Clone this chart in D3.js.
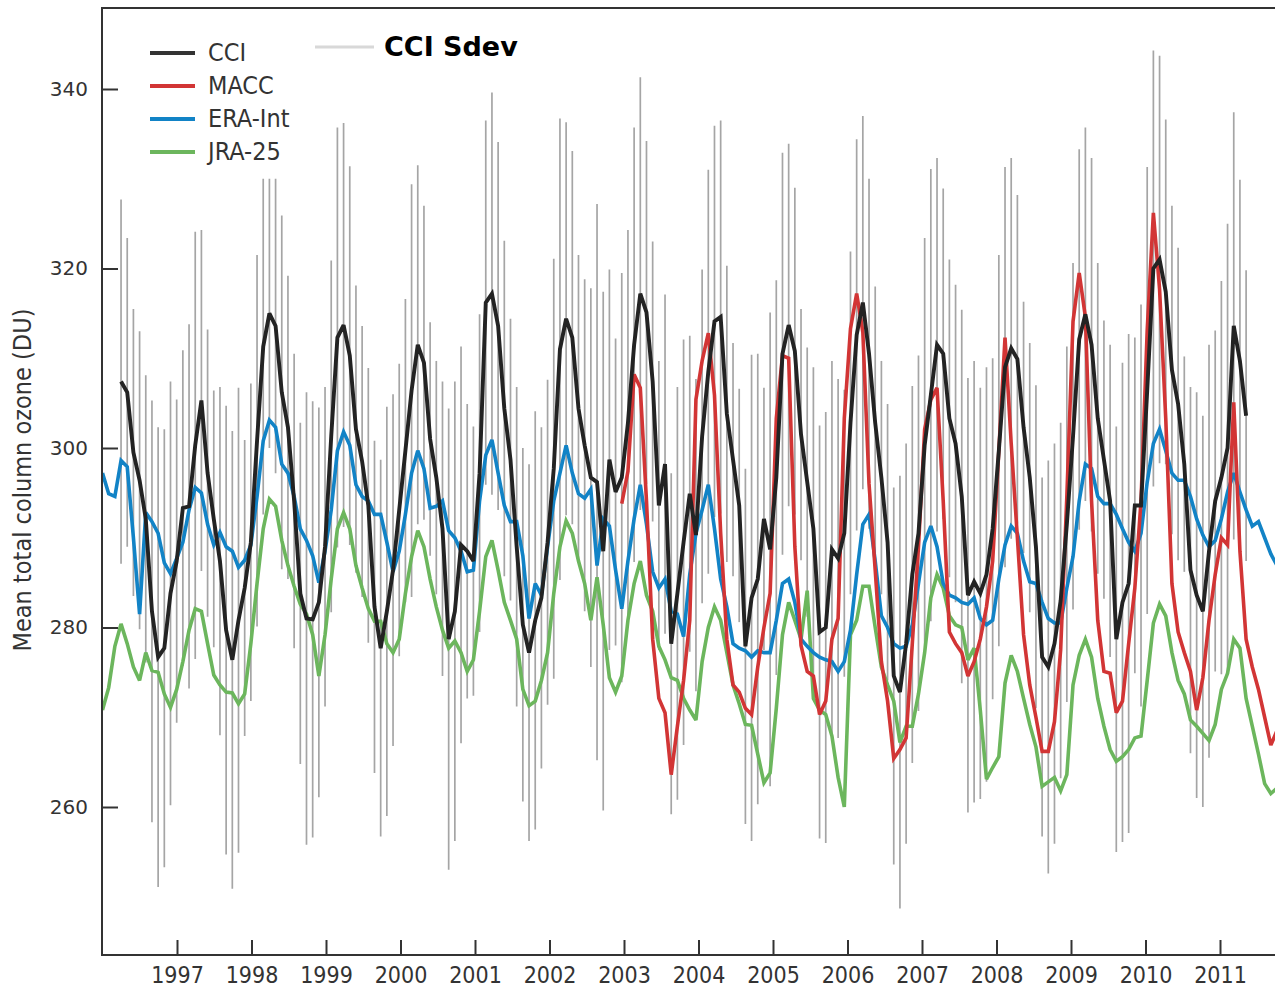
<!DOCTYPE html>
<html><head><meta charset="utf-8">
<script src="https://cdn.jsdelivr.net/npm/d3@7"></script>
<style>body{margin:0;background:#fff} svg{display:block}</style>
</head><body>
<svg id="chart" width="1275" height="989"></svg>
<script>
// ---- data (monthly, month index counted from Jan 1996) ----
const baseYear = 1996;
const yearTicks = [1997,1998,1999,2000,2001,2002,2003,2004,2005,2006,2007,2008,2009,2010,2011];
const yTicks = [260,280,300,320,340];
const seriesNames = ["CCI","MACC","ERA-Int","JRA-25"];
const seriesColors = ["#232323","#d23535","#1283c6","#6cb65d"];

const eraStart = 0;
const era = [297.2,294.9,294.6,298.6,297.9,290.0,281.5,292.8,291.8,290.5,287.2,286.0,
287.7,289.5,293.1,295.6,295.0,291.5,289.2,290.6,289.0,288.5,286.7,287.5,
289.2,294.6,300.8,303.1,302.3,298.2,297.2,294.6,291.0,289.7,288.0,285.0,
288.5,293.1,299.7,301.8,300.3,295.9,294.6,294.1,292.6,292.6,289.5,286.2,
288.5,292.6,297.2,299.7,297.7,293.3,293.5,294.1,290.8,290.0,288.5,286.2,
286.4,294.1,299.2,300.9,297.2,293.6,291.8,291.8,288.0,281.0,284.9,283.6,
289.0,294.1,297.2,300.3,297.2,294.9,294.4,295.4,286.9,292.1,291.3,286.4,
282.1,287.4,292.1,295.9,291.5,286.2,284.4,285.4,281.8,281.5,279.0,285.9,
290.5,293.1,295.9,291.0,285.4,282.3,278.2,277.7,277.4,276.7,277.4,277.2,
277.2,280.8,284.9,285.4,282.8,278.7,277.9,277.2,276.7,276.4,276.2,275.1,
276.2,279.7,285.9,291.5,292.6,287.4,281.3,280.0,278.2,277.7,277.9,280.3,
284.9,289.5,291.3,289.0,284.9,283.6,283.3,282.8,282.6,283.3,281.0,280.3,
280.8,285.4,289.2,291.3,290.5,287.4,285.1,284.9,282.8,281.0,280.5,280.5,
284.4,287.9,294.1,298.2,297.7,294.6,293.8,293.8,292.6,291.0,289.5,288.5,
290.5,296.2,300.5,302.1,299.7,297.2,296.4,296.4,294.6,292.1,290.3,289.0,
289.7,292.1,295.1,297.2,295.1,293.1,291.3,291.8,290.0,288.2,286.9];

const jraStart = 0;
const jra = [270.8,273.3,277.9,280.4,278.2,275.6,274.1,277.2,275.2,275.0,272.6,271.1,
273.1,276.2,279.7,282.1,281.8,278.2,274.7,273.6,272.8,272.7,271.5,272.6,
278.2,284.9,291.0,294.3,293.5,289.7,286.9,284.6,282.6,281.5,279.2,274.6,
279.2,285.4,291.0,292.8,291.0,286.9,284.4,282.1,280.7,280.7,278.2,277.2,
278.7,283.8,287.9,290.8,289.0,285.4,282.3,279.7,277.7,278.5,277.2,275.1,
276.4,281.8,287.9,289.7,286.4,282.8,280.8,278.7,273.1,271.3,271.8,274.1,
277.2,283.8,289.0,291.9,290.5,287.4,284.9,280.8,285.6,280.3,274.4,272.8,
274.6,280.8,284.9,287.4,283.6,281.8,277.9,276.4,274.4,274.1,272.1,270.8,
269.7,276.2,280.0,282.3,280.8,277.2,273.6,271.5,269.2,269.1,265.9,262.7,
263.8,271.0,279.2,282.8,280.8,278.7,284.1,272.1,270.8,270.3,267.9,263.3,
260.0,279.2,280.8,284.6,284.6,280.0,275.6,273.6,271.8,267.2,269.0,269.0,
272.6,277.2,283.3,285.9,284.4,281.3,280.3,280.0,276.4,277.7,270.8,263.1,
264.4,265.6,273.8,276.9,275.1,272.1,269.2,266.7,262.3,262.8,263.3,261.8,
263.6,273.6,276.9,278.7,276.7,272.1,269.0,266.4,265.1,265.6,266.4,267.7,
267.9,274.1,280.5,282.6,281.3,277.2,274.1,272.6,269.7,269.0,268.2,267.4,
269.2,273.1,274.9,278.7,277.7,272.1,269.0,265.9,262.6,261.5,262.1];

const cciStart = 3;
const cci = [307.4,306.2,299.5,296.4,292.1,281.8,276.7,277.7,283.8,
287.4,293.3,293.5,300.3,305.3,297.2,292.1,287.4,279.7,276.4,280.8,284.4,
289.5,300.8,311.3,315.0,313.6,306.2,302.3,294.1,283.8,281.0,280.9,282.8,
289.0,301.3,312.3,313.7,310.3,302.1,298.5,293.6,282.3,277.7,281.8,286.4,
293.1,299.7,306.4,311.5,309.5,301.0,296.7,291.0,278.7,281.8,289.2,288.5,
287.4,297.2,316.2,317.2,313.6,304.4,298.7,289.0,280.3,277.2,280.8,283.3,
289.5,297.7,311.0,314.4,312.3,304.4,300.3,296.7,296.2,288.5,298.7,295.1,
296.7,302.8,311.5,317.2,315.1,307.4,293.6,298.2,278.2,283.8,289.5,294.9,
290.3,301.3,308.5,314.1,314.6,303.8,298.7,293.6,277.9,283.3,285.4,292.1,
288.7,296.7,310.5,313.7,310.8,301.5,296.2,291.0,279.5,280.0,288.7,287.7,
290.5,302.8,312.6,316.2,310.5,302.8,296.7,289.5,274.6,272.8,278.2,285.9,
290.5,300.3,305.9,311.5,310.5,303.3,300.5,294.6,283.6,285.1,283.8,285.9,
291.0,299.7,309.0,311.1,309.9,302.3,296.7,289.0,276.7,275.6,278.2,283.0,
291.5,301.3,312.1,314.9,311.5,303.3,298.7,294.1,278.7,282.8,284.9,293.6,
293.6,306.4,320.0,321.0,317.4,308.7,304.9,298.2,286.4,283.6,281.8,288.5,
294.1,296.7,300.0,313.6,309.7,303.6];

const cciSdev = [20.3,17.2,16.0,16.6,16.0,23.5,25.6,24.4,23.6,
18.0,17.6,20.3,23.8,19.0,16.0,14.3,19.4,25.0,25.5,25.9,16.5,
17.7,20.7,18.7,15.0,16.4,19.7,16.9,16.4,19.0,25.2,24.3,21.7,
17.8,19.6,23.4,22.5,21.1,16.0,15.1,15.3,18.5,21.0,22.8,19.6,
16.3,16.9,23.0,20.0,17.5,13.0,13.0,16.4,25.7,25.6,22.1,16.4,
15.0,17.7,20.3,22.4,20.5,18.7,15.7,17.8,19.7,21.0,23.3,19.0,
18.1,23.4,25.7,21.9,20.8,17.1,18.5,21.1,31.0,28.9,21.2,17.1,
22.8,21.5,24.2,24.1,19.1,15.6,16.1,18.9,19.0,23.0,22.6,17.6,
17.4,18.6,22.5,21.8,21.9,16.5,13.0,13.0,19.8,27.1,25.1,14.6,
26.4,22.0,22.4,20.2,18.2,14.0,15.0,18.0,23.0,24.0,21.0,20.0,
16.0,19.1,21.8,20.8,19.5,15.2,13.0,15.4,21.0,24.1,22.3,21.0,
19.8,23.1,25.2,20.8,18.4,17.7,17.7,20.8,24.2,24.6,22.9,23.1,
19.0,21.8,22.3,21.2,18.3,14.0,15.0,18.0,20.0,23.0,22.3,19.8,
19.8,19.3,21.2,20.8,20.8,17.3,15.5,17.4,23.7,26.7,27.8,18.7,
22.4,24.9,24.3,22.7,19.2,18.3,17.4,12.0,20.4,22.6,21.8,23.0,
19.0,21.9,25.0,23.8,20.2,16.2];

const maccStart = 84;
const macc = [293.8,297.4,308.2,306.7,294.1,278.7,272.1,270.5,263.6,269.0,274.1,280.8,
305.4,309.7,312.8,305.9,290.5,278.7,273.6,272.8,271.0,270.3,275.6,280.0,
283.8,303.3,310.3,310.0,289.0,278.0,275.1,274.6,270.3,271.8,278.7,281.0,
303.3,313.3,317.2,312.9,296.0,286.4,276.2,271.8,265.4,266.4,267.7,278.2,
289.0,302.1,305.4,306.7,294.1,279.5,278.2,277.2,274.6,276.2,278.7,282.3,
287.4,299.7,312.3,300.5,290.0,279.2,273.6,270.0,266.2,266.2,269.5,277.5,
294.6,314.1,319.5,314.6,294.1,280.8,275.1,274.9,270.5,271.8,278.2,284.4,
294.1,313.1,326.2,317.7,303.3,284.9,279.5,277.2,275.1,270.8,274.4,280.8,
285.9,290.0,289.2,305.1,288.5,278.7,275.6,273.1,270.0,266.9,268.5];

// ---- chart ----
const svg = d3.select("#chart");
svg.append("rect").attr("width",1275).attr("height",989).attr("fill","#fff");

// axis scale (year ticks) and the scale used to place the monthly samples
const x = d3.scaleLinear().domain([1996, 2012]).range([102.5, 102.5 + 16*74.5]);
const xData = d3.scaleLinear().domain([1996, 2012]).range([102.5, 102.5 + 16*74.18]);
const y = d3.scaleLinear().domain([260, 340]).range([807, 89]);
const tOf = (start, i) => baseYear + (start + i) / 12;
const toPts = (arr, start) => arr.map((v, i) => ({t: tOf(start, i), v}));

const plotTop = 8, plotBottom = 955, plotLeft = 102;

svg.append("clipPath").attr("id","clip").append("rect")
  .attr("x", plotLeft).attr("y", plotTop).attr("width", 1275 - plotLeft).attr("height", plotBottom - plotTop);

const g = svg.append("g").attr("clip-path","url(#clip)");

// Sdev bars
g.append("g").selectAll("line").data(cci.map((v,i)=>({t:tOf(cciStart,i), v, s:cciSdev[i]})))
  .join("line")
  .attr("x1", d=>xData(d.t)).attr("x2", d=>xData(d.t))
  .attr("y1", d=>y(d.v + d.s)).attr("y2", d=>y(d.v - d.s))
  .attr("stroke","#a5a5a5").attr("stroke-width",1.7);

const line = d3.line().x(d=>xData(d.t)).y(d=>y(d.v));
const drawSeries = (arr, start, color, w) =>
  g.append("path").datum(toPts(arr, start)).attr("d", line)
    .attr("fill","none").attr("stroke", color).attr("stroke-width", w)
    .attr("stroke-linejoin","miter").attr("stroke-miterlimit", 3);

drawSeries(jra, jraStart, seriesColors[3], 3.6);
drawSeries(era, eraStart, seriesColors[2], 3.6);
drawSeries(macc, maccStart, seriesColors[1], 3.6);
drawSeries(cci, cciStart, seriesColors[0], 3.9);

// frame
const frameColor = "#333";
svg.append("line").attr("x1",plotLeft).attr("x2",plotLeft).attr("y1",plotTop).attr("y2",plotBottom+1)
  .attr("stroke",frameColor).attr("stroke-width",2);
svg.append("line").attr("x1",plotLeft-1).attr("x2",1275).attr("y1",plotTop).attr("y2",plotTop)
  .attr("stroke",frameColor).attr("stroke-width",2);
svg.append("line").attr("x1",plotLeft-1).attr("x2",1275).attr("y1",plotBottom).attr("y2",plotBottom)
  .attr("stroke",frameColor).attr("stroke-width",2);

// y axis
const yAxis = svg.append("g").attr("transform",`translate(${plotLeft},0)`)
  .call(d3.axisLeft(y).tickValues(yTicks).tickSize(-16).tickSizeOuter(0).tickPadding(14).tickFormat(d3.format("d")));
yAxis.select(".domain").remove();
yAxis.selectAll(".tick line").attr("stroke",frameColor).attr("stroke-width",2);
yAxis.selectAll(".tick text").attr("font-family","'DejaVu Sans', Verdana, sans-serif")
  .attr("font-size",20).attr("fill","#333");

// x axis
const xAxis = svg.append("g").attr("transform",`translate(0,${plotBottom})`)
  .call(d3.axisBottom(x).tickValues(yearTicks).tickSize(-15).tickSizeOuter(0).tickPadding(12).tickFormat(d3.format("d")));
xAxis.select(".domain").remove();
xAxis.selectAll(".tick line").attr("stroke",frameColor).attr("stroke-width",2);
xAxis.selectAll(".tick text").attr("font-family","'Liberation Sans Narrow', 'DejaVu Sans Condensed', sans-serif")
  .attr("font-size",23).attr("fill","#333");

// y title
svg.append("text").attr("transform","translate(31,480) rotate(-90)")
  .attr("text-anchor","middle")
  .attr("font-family","'Liberation Sans Narrow', 'DejaVu Sans Condensed', sans-serif")
  .attr("font-size",25).attr("fill","#333")
  .text("Mean total column ozone (DU)");

// legend
const legY = [53, 86, 119, 152];
const leg = svg.append("g");
seriesNames.forEach((n, i) => {
  leg.append("line").attr("x1",150).attr("x2",195).attr("y1",legY[i]).attr("y2",legY[i])
    .attr("stroke", i===0 ? "#333" : seriesColors[i]).attr("stroke-width",4);
  leg.append("text").attr("x",208).attr("y",legY[i]+8)
    .attr("font-family","'Liberation Sans Narrow', 'DejaVu Sans Condensed', sans-serif")
    .attr("font-size",25).attr("fill","#333").text(n);
});
leg.append("line").attr("x1",315).attr("x2",374).attr("y1",47).attr("y2",47)
  .attr("stroke","#d8d8d8").attr("stroke-width",3);
leg.append("text").attr("x",384).attr("y",56)
  .attr("font-family","'DejaVu Sans', Verdana, sans-serif").attr("font-weight","bold")
  .attr("font-size",27).attr("fill","#000").text("CCI Sdev");
</script>
</body></html>
